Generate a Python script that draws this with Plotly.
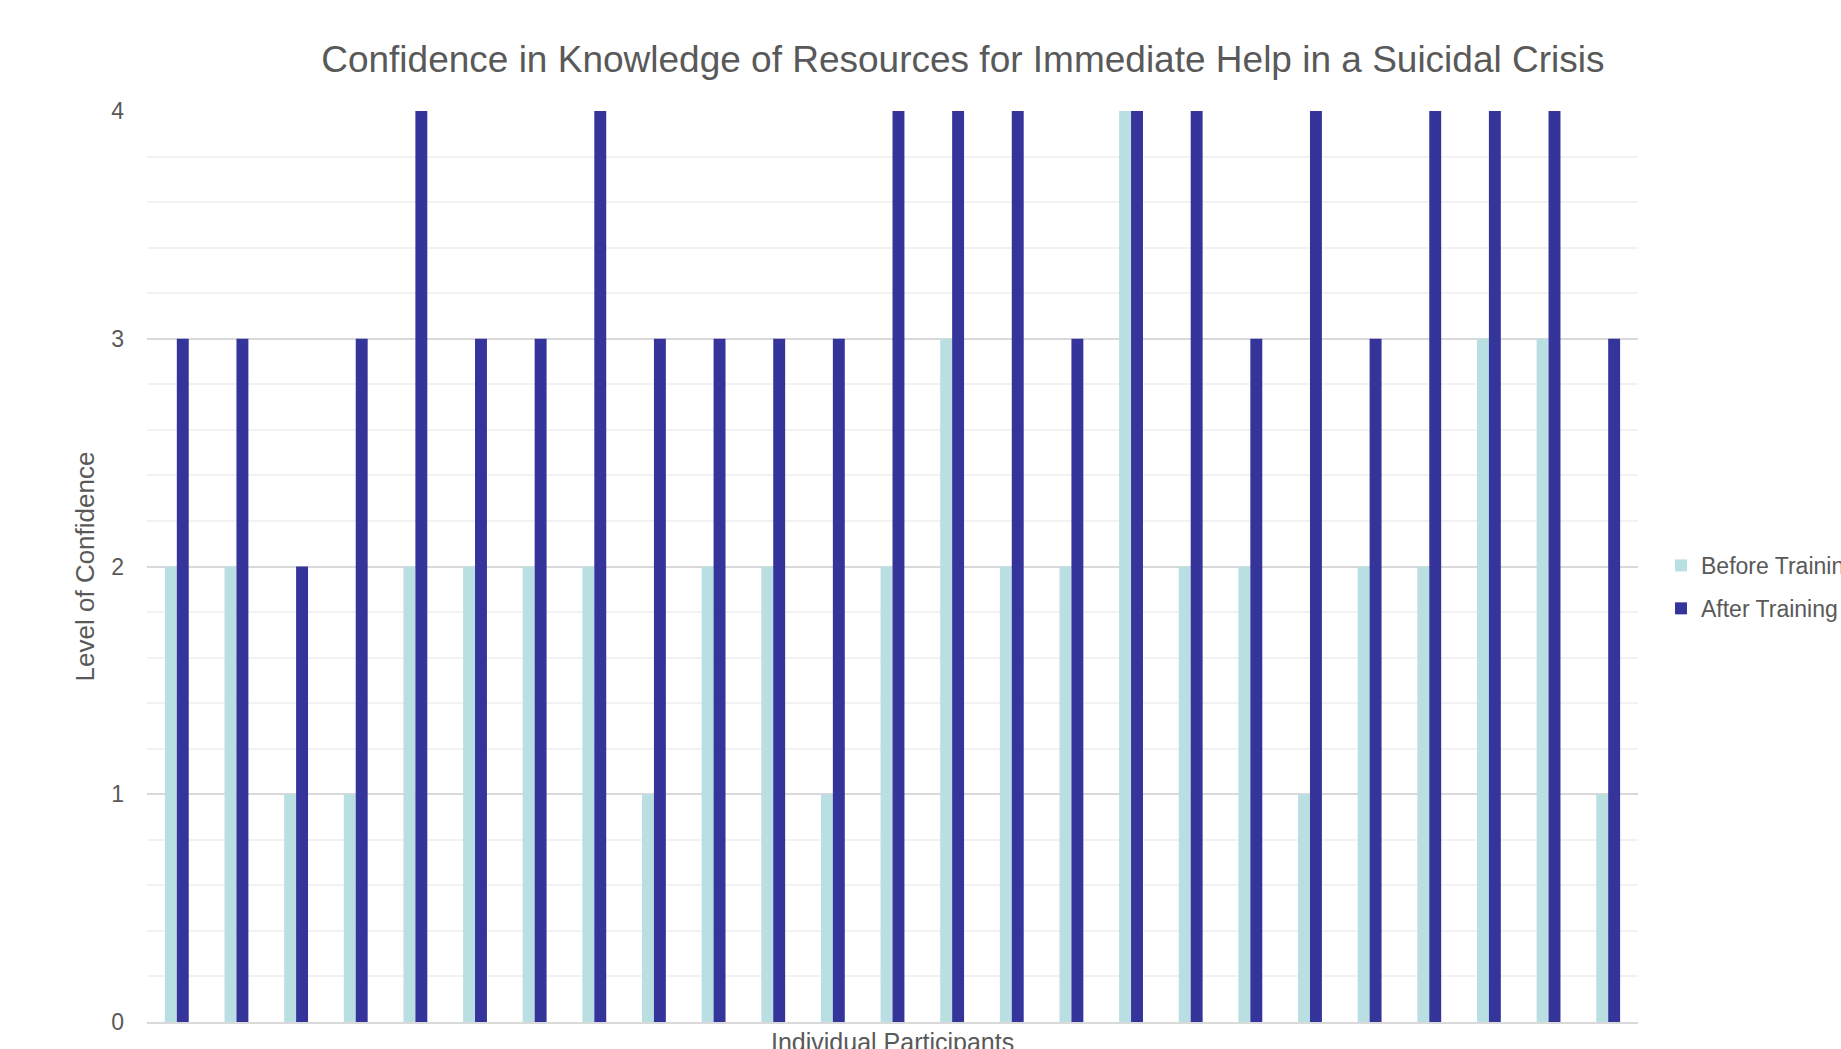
import plotly.graph_objects as go

# Participant scores on a 0-4 confidence scale
participants = [f"P{i}" for i in range(1, 26)]
before_training = [2, 2, 1, 1, 2, 2, 2, 2, 1, 2, 2, 1, 2, 3, 2, 2, 4, 2, 2, 1, 2, 2, 3, 3, 1]
after_training = [3, 3, 2, 3, 4, 3, 3, 4, 3, 3, 3, 3, 4, 4, 4, 3, 4, 4, 3, 4, 3, 4, 4, 4, 3]
y_ticks = [0, 1, 2, 3, 4]

TEXT = "#595959"
FONT = "Liberation Sans, Arial, sans-serif"

fig = go.Figure()
fig.add_trace(go.Bar(x=participants, y=before_training, name="Before Training",
                     legendgroup="before",
                     marker=dict(color="#b9dfe3", line=dict(width=0))))
fig.add_trace(go.Bar(x=participants, y=after_training, name="After Training",
                     legendgroup="after",
                     marker=dict(color="#35349a", line=dict(width=0))))

fig.update_layout(
    width=1841, height=1049,
    paper_bgcolor="white", plot_bgcolor="white",
    font=dict(family=FONT, color=TEXT, size=23),
    barmode="group", bargap=0.6, bargroupgap=0,
    margin=dict(l=147, r=203, t=111, b=27, autoexpand=False),
    title=dict(text="Confidence in Knowledge of Resources for Immediate Help in a Suicidal Crisis",
               font=dict(size=37, color=TEXT, family=FONT),
               x=0.523, xanchor="center", xref="container",
               y=1 - 59 / 1049, yanchor="middle", yref="container"),
    legend=dict(x=1661 / 1841, xref="container", xanchor="left",
                y=1 - 587 / 1049, yref="container", yanchor="middle",
                font=dict(size=23, color=TEXT),
                itemsizing="constant", tracegroupgap=10, bgcolor="rgba(0,0,0,0)"),
    showlegend=True,
)

# x-axis title placed just under the baseline
fig.add_annotation(text="Individual Participants", xref="paper", yref="paper",
                   x=0.5, y=0, xanchor="center", yanchor="top", yshift=-4,
                   showarrow=False, font=dict(size=25, color=TEXT, family=FONT))

fig.update_xaxes(showticklabels=False, showgrid=False, ticks="",
                 showline=True, linecolor="#d9d9d9", linewidth=2)
fig.update_yaxes(range=[0, 4], tickvals=y_ticks, ticks="", ticklabelstandoff=22,
                 showgrid=True, gridcolor="#d9d9d9", gridwidth=1.5,
                 zeroline=False,
                 minor=dict(dtick=0.2, showgrid=True, gridcolor="#f2f2f2", gridwidth=1.5),
                 tickfont=dict(size=23, color=TEXT),
                 title=dict(text="Level of Confidence", standoff=9,
                            font=dict(size=26, color=TEXT)))

fig.write_html("out.html")
